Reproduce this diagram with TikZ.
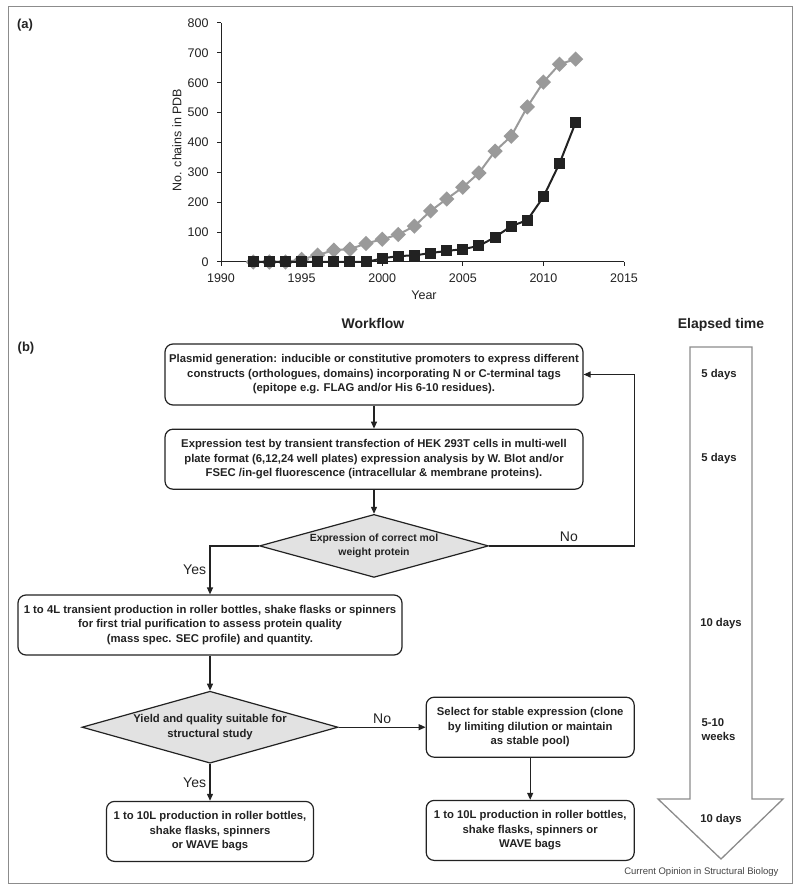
\documentclass[tikz,border=0pt]{standalone}
\usepackage{fontspec}
\setmainfont{Liberation Sans}
\usepackage{tikz}
\usetikzlibrary{shapes.geometric, arrows.meta, positioning, plotmarks}
\definecolor{inkdark}{HTML}{222222}
\definecolor{seriesgray}{HTML}{9A9A9A}
\definecolor{framegray}{HTML}{8C8C8C}
\definecolor{decisionfill}{HTML}{E2E2E2}
\tikzset{
  block/.style={rectangle, draw=inkdark, line width=1.2pt, rounded corners=8pt,
                align=center, inner sep=2pt, text=inkdark,
                font=\fontsize{11.3}{14.5}\selectfont\bfseries},
  decision/.style={diamond, draw=inkdark, fill=decisionfill, line width=1.2pt,
                   inner sep=0pt, align=center, text=inkdark,
                   font=\fontsize{11.3}{14.5}\selectfont\bfseries},
  arrow/.style={-{Triangle[length=7pt, width=6pt]}, line width=1.2pt, color=inkdark},
  answer/.style={font=\fontsize{14}{16}\selectfont, text=inkdark},
  heading/.style={font=\fontsize{14}{16}\selectfont\bfseries, text=inkdark},
  panel/.style={font=\fontsize{13}{15}\selectfont\bfseries, text=inkdark},
  axisnum/.style={font=\fontsize{12.5}{14}\selectfont, inner sep=0pt, text=inkdark},
  elapsed/.style={font=\fontsize{11.3}{14}\selectfont\bfseries, align=left, text=inkdark},
}

\begin{document}
\begin{tikzpicture}[x=1pt, y=1pt]
  \useasboundingbox (0,0) rectangle (800,-890);
  \draw[framegray, line width=1pt] (8,-7) rectangle (792,-883);

  % Panel (a): chains in PDB per year
  \node[panel] (tag a) at (25,-25) {(a)};
  \begin{scope}[shift={(221,-262)}, x=16.12pt, y=0.2988pt]
    \draw[line width=1pt, inkdark] (0,0) -- (25,0);
    \draw[line width=1pt, inkdark] (0,0) -- (0,800);
    \foreach \v in {0,100,...,800}
      \draw[line width=1pt, inkdark] (0,\v) -- ++(-4pt,0)
        node[axisnum, anchor=east, xshift=-8pt] {\v};
    \foreach \yr/\lab in {0/1990,5/1995,10/2000,15/2005,20/2010,25/2015}
      \draw[line width=1pt, inkdark] (\yr,0) -- ++(0,-4pt)
        node[axisnum, anchor=north, yshift=-7.5pt] {\lab};

    % grey series (diamonds)
    \draw[seriesgray, line width=2pt, mark=square*, mark size=4.4pt,
          mark options={rotate=45, fill=seriesgray, draw=seriesgray}]
      plot coordinates {(2,0) (3,0) (4,0) (5,9) (6,23) (7,40) (8,43) (9,62)
        (10,76) (11,92) (12,120) (13,171) (14,211) (15,250) (16,298)
        (17,371) (18,421) (19,519) (20,602) (21,662) (22,679)};
    % black series (squares)
    \draw[inkdark, line width=2pt, mark=square*, mark size=4.5pt,
          mark options={fill=inkdark, draw=inkdark}]
      plot coordinates {(2,0) (3,0) (4,0) (5,0) (6,0) (7,0) (8,0) (9,0)
        (10,12) (11,20) (12,22) (13,30) (14,37) (15,43) (16,54)
        (17,83) (18,120) (19,140) (20,218) (21,330) (22,467)};
  \end{scope}
  \node[axisnum, rotate=90] (ytitle) at (177,-140) {No. chains in PDB};
  \node[axisnum] (xtitle) at (424,-295) {Year};

  % Panel (b): workflow
  \node[panel] (tag b) at (26,-348) {(b)};
  \node[heading] (workflow) at (373,-323) {Workflow};
  \node[heading] (elapsed) at (721,-325) {Elapsed time};

  \node[block, minimum width=418pt, minimum height=61pt] (plasmid) at (374,-374.5)
    {Plasmid generation: inducible or constitutive promoters to express different\\
     constructs (orthologues, domains) incorporating N or C-terminal tags\\
     (epitope e.g. FLAG and/or His 6-10 residues).};
  \node[block, minimum width=418pt, minimum height=60pt, below=23pt of plasmid] (exptest)
    {Expression test by transient transfection of HEK 293T cells in multi-well\\
     plate format (6,12,24 well plates) expression analysis by W. Blot and/or\\
     FSEC /in-gel fluorescence (intracellular \& membrane proteins).};
  \node[decision, minimum width=229pt, minimum height=63pt, aspect=3.6,
        font=\fontsize{10.4}{13.5}\selectfont\bfseries,
        below=24pt of exptest] (mwcheck)
    {Expression of correct mol\\weight protein};

  \node[block, minimum width=384pt, minimum height=60pt] (trial) at (210,-625)
    {1 to 4L transient production in roller bottles, shake flasks or spinners\\
     for first trial purification to assess protein quality\\
     (mass spec. SEC profile) and quantity.};
  \node[decision, minimum width=256pt, minimum height=72pt, aspect=3.5,
        below=35pt of trial] (yieldcheck)
    {Yield and quality suitable for\\structural study};
  \node[block, minimum width=207pt, minimum height=60pt, below=37pt of yieldcheck] (scaleup)
    {1 to 10L production in roller bottles,\\shake flasks, spinners\\or WAVE bags};
  \node[block, minimum width=208pt, minimum height=60pt, right=87pt of yieldcheck] (stable)
    {Select for stable expression (clone\\by limiting dilution or maintain\\as stable pool)};
  \node[block, minimum width=208pt, minimum height=60pt, below=42pt of stable] (stablescale)
    {1 to 10L production in roller bottles,\\shake flasks, spinners or\\WAVE bags};

  % Arrows
  \draw[arrow] (plasmid) -- (exptest);
  \draw[arrow] (exptest) -- (mwcheck);
  \draw[arrow] (mwcheck.west) -| node[pos=0.75, left, answer]{Yes} (trial.north);
  \draw[arrow] (mwcheck.east) -- node[pos=0.55, above, answer]{No} ++(145,0) |- (plasmid.east);
  \draw[arrow] (trial) -- (yieldcheck);
  \draw[arrow] (yieldcheck) -- node[left, answer]{Yes} (scaleup);
  \draw[arrow] (yieldcheck) -- node[above, answer]{No} (stable);
  \draw[arrow] (stable) -- (stablescale);

  % Elapsed time arrow
  \draw[framegray, line width=1.3pt] (690,-347) -- (752,-347) -- (752,-799)
    -- (783,-799) -- (721,-859) -- (658,-799) -- (690,-799) -- cycle;
  \node[elapsed] (t plasmid) at (719,-375) {5 days};
  \node[elapsed] (t exptest) at (719,-459) {5 days};
  \node[elapsed] (t trial) at (721,-624) {10 days};
  \node[elapsed, anchor=west] (t stable) at (698,-730) {5-10\\weeks};
  \node[elapsed] (t scaleup) at (721,-820) {10 days};

  \node[anchor=east, font=\fontsize{9.5}{11}\selectfont, text=inkdark!85] (credit)
    at (782,-872) {Current Opinion in Structural Biology};
\end{tikzpicture}
\end{document}
